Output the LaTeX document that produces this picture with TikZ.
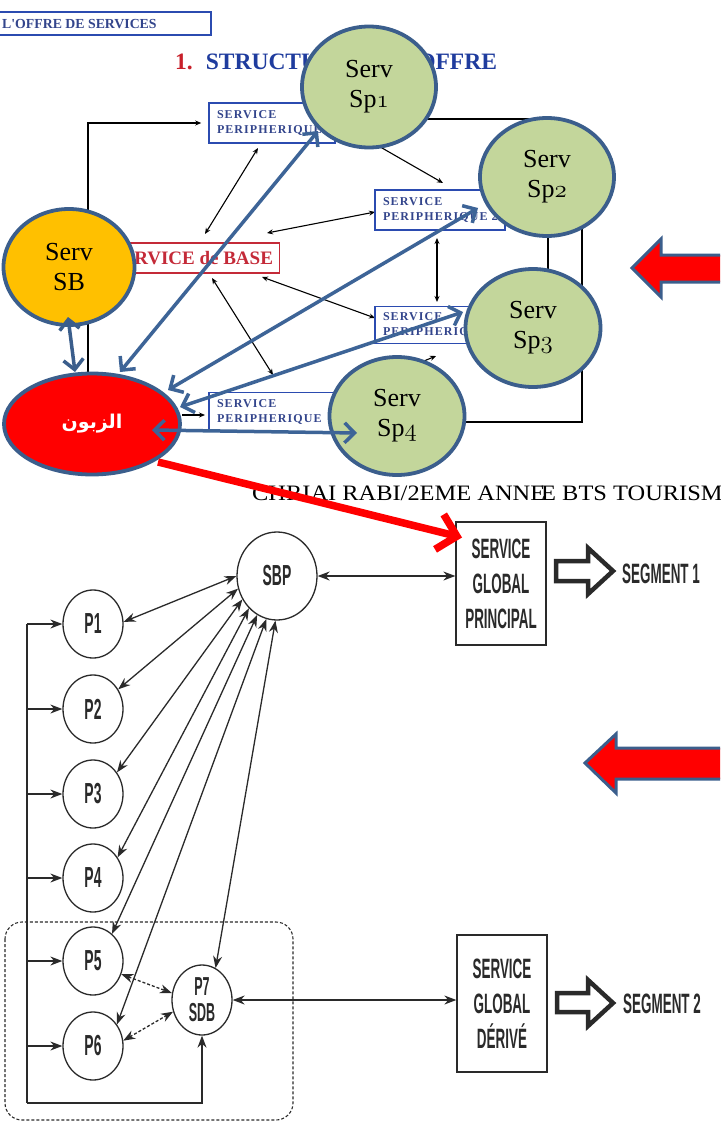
\documentclass[tikz,border=0pt]{standalone}
\usepackage{fontspec}
\usetikzlibrary{arrows.meta,shapes.geometric}
\TeXXeTstate=1
\newfontfamily\timesf{Liberation Serif}
\newfontfamily\footf[FakeStretch=1.11]{Liberation Serif}
\newfontfamily\arabicfont[Script=Arabic]{DejaVu Sans}
\newfontfamily\condf[FakeStretch=0.48]{Liberation Sans}
\newcommand\osn[1]{{\usefont{OML}{cmm}{m}{it}#1}}
\pgfdeclarelayer{back}
\pgfsetlayers{back,main}
\definecolor{cborder}{HTML}{3B5E8C}
\definecolor{sgreen}{HTML}{C3D69B}
\definecolor{sorange}{HTML}{FFC000}
\definecolor{barrow}{HTML}{3D6497}
\definecolor{tblue}{HTML}{1F3C9E}
\definecolor{tred}{HTML}{C8202A}
\definecolor{pbox}{HTML}{2B4BB0}
\definecolor{ptext}{HTML}{33458C}
\definecolor{bred}{HTML}{C42A38}
\definecolor{ink}{HTML}{2A2A2A}
\tikzset{
  serv/.style={ellipse, draw=cborder, line width=3.8pt, fill=sgreen, inner sep=0pt,
    minimum width=134pt, minimum height=121pt, align=center, font=\timesf\fontsize{26}{30}\selectfont},
  peri/.style={rectangle, draw=pbox, line width=1.6pt, fill=white, inner sep=0pt, align=left,
    text=ptext, font=\timesf\bfseries\fontsize{12}{15}\selectfont\addfontfeature{LetterSpace=9}},
  blk/.style={draw=black, line width=1.1pt, >={Stealth[length=6pt,width=5pt]}},
  blu/.style={draw=barrow, line width=3.5pt, >={Straight Barb[length=10pt,width=20pt]}, <->},
  pc/.style={ellipse, draw=ink, line width=1.3pt, minimum width=60pt, minimum height=68pt,
    inner sep=0pt, text=ink, font=\condf\bfseries\fontsize{29}{29}\selectfont},
  gbox/.style={rectangle, draw=ink, line width=1.3pt, minimum width=90pt, inner sep=0pt,
    align=center, text=ink, font=\condf\bfseries\fontsize{28}{35}\selectfont},
  gar/.style={draw=ink, line width=1.3pt, >={Stealth[length=12pt,width=9pt]}},
  seglabel/.style={anchor=base west, inner sep=0pt, text=ink, font=\condf\bfseries\fontsize{28}{28}\selectfont},
  bigarrow/.style={fill=red, draw=cborder, line width=3pt, line join=miter},
  segarrow/.style={fill=white, draw=ink, line width=4.5pt, line join=miter}
}
\begin{document}
\begin{tikzpicture}[x=1pt,y=-1pt]
\useasboundingbox (0,0) rectangle (720,1121);
\clip (0,0) rectangle (720,1121);
\begin{pgfonlayer}{back}
\fill[white] (0,0) rectangle (720,1121);
\end{pgfonlayer}

% ---------- upper figure: header and title ----------
\draw[draw=pbox, line width=2.6pt] (-10,12) rectangle (211,35);
\node[anchor=base west, inner sep=0pt, text=ptext, font=\timesf\bfseries\fontsize{13.8}{14}\selectfont] (hdr) at (2,29) {L'OFFRE DE SERVICES};
\node[anchor=base west, inner sep=0pt, font=\timesf\bfseries\fontsize{23.5}{24}\selectfont] (title) at (175,70)
  {\textcolor{tred}{1.}\hspace{13pt}\textcolor{tblue}{STRUCTURE DE L'OFFRE}};

% ---------- service boxes ----------
\node[peri, minimum width=126pt, minimum height=40pt, text width=110pt] (b1) at (272,123) {SERVICE\\PERIPHERIQUE};
\node[peri, minimum width=130pt, minimum height=40pt, text width=114pt] (b2) at (440,210) {SERVICE\\PERIPHERIQUE\rlap{ 2}};
\node[peri, minimum width=130pt, minimum height=37pt, text width=114pt] (b3) at (440,325) {SERVICE\\PERIPHERIQUE};
\node[peri, minimum width=126pt, minimum height=39pt, text width=110pt] (b4) at (272,412) {SERVICE\\PERIPHERIQUE};
\node[rectangle, draw=bred, line width=1.6pt, fill=white, minimum width=175pt, minimum height=30pt, inner sep=0pt,
  text=bred, font=\timesf\bfseries\fontsize{19}{20}\selectfont] (base) at (192,258) {SERVICE de BASE};

% ---------- service circles ----------
\node[serv] (sp1) at (369,87) {Serv\\Sp\osn{1}};
\node[serv, minimum height=118pt] (sp2) at (547,177) {Serv\\Sp\osn{2}};
\node[serv, minimum width=135pt, minimum height=118pt] (sp3) at (533,328) {Serv\\Sp\osn{3}};
\node[serv, minimum width=135pt, minimum height=118pt] (sp4) at (397,416) {Serv\\Sp\osn{4}};
\node[serv, fill=sorange, minimum width=131pt, minimum height=116pt] (sb) at (69,267) {Serv\\SB};
\node[serv, fill=red, minimum width=176pt, minimum height=101pt, text=white,
  font=\arabicfont\bfseries\fontsize{19}{22}\selectfont] (cl) at (92,424) {\beginR الزبون\endR};

% ---------- thin black links of the original scheme ----------
\begin{pgfonlayer}{back}
\draw[blk, ->] ([shift={(-4,-51)}]cl.center) |- ([shift={(-7,0)}]b1.west);
\draw[blk, <->] ([shift={(-14,25)}]b1.center) -- ([shift={(13,-24)}]base.center);
\draw[blk, ->] ([shift={(63,-2)}]b1.center) -- ([shift={(3,-27)}]b2.center);
\draw[blk, <->] ([shift={(75,-25)}]base.center) -- ([shift={(-65,2)}]b2.center);
\draw[blk, <->] ([shift={(70,19)}]base.center) -- ([shift={(-65,-7)}]b3.center);
\draw[blk, <->] ([shift={(20,20)}]base.center) -- ([shift={(1,-37)}]b4.center);
\draw[blk, <->] ([shift={(-3,28)}]b2.center) -- ([shift={(-3,-23)}]b3.center);
\draw[blk, ->] ([shift={(90,-9)}]cl.center) -- ([shift={(-67,3)}]b4.center);
\draw[blk, ->] ([shift={(58,-12)}]b4.center) -- ([shift={(-4,31)}]b3.center);
\draw[blk] ([shift={(63,-4)}]b1.center) -- ++(213,0) |- ([shift={(65,0)}]b3.center);
\draw[blk] ([shift={(65,5)}]b2.center) -- ++(77,0) |- ([shift={(63,10)}]b4.center);
\end{pgfonlayer}

% ---------- thick blue links ----------
\draw[blu, draw=cborder] ([shift={(-1,50)}]sb.center) -- ([shift={(-17,-52)}]cl.center);
\draw[blu] ([shift={(28,-52)}]cl.center) -- ([shift={(-51,44)}]sp1.center);
\draw[blu] ([shift={(76,-34)}]cl.center) -- ([shift={(-69,31)}]sp2.center);
\draw[blu] ([shift={(88,-17)}]cl.center) -- ([shift={(-70,-16)}]sp3.center);
\draw[blu] ([shift={(60,6)}]cl.center) -- ([shift={(-40,17)}]sp4.center);

% ---------- block arrows ----------
\draw[bigarrow] (730,255) -- (661,255) -- (661,239) -- (632,268) -- (661,297) -- (661,282) -- (730,282) -- cycle;
\draw[bigarrow] (730,748) -- (616,748) -- (616,734) -- (585,763) -- (616,793) -- (616,779) -- (730,779) -- cycle;

% ---------- footer line ----------
\node[anchor=base west, inner sep=0pt, font=\footf\fontsize{22}{24}\selectfont] (foot) at (252,500)
  {CHRIAI RABI/2EME ANNE\kern-4pt E BTS TOURISME};

% ---------- lower figure ----------
\node[pc, minimum width=80pt, minimum height=88pt] (sbp) at (277,576) {SBP};
\node[pc] (p1) at (93,624) {P1};
\node[pc] (p2) at (93,709) {P2};
\node[pc] (p3) at (93,794) {P3};
\node[pc] (p4) at (93,878) {P4};
\node[pc] (p5) at (93,961) {P5};
\node[pc] (p6) at (93,1046) {P6};
\node[pc, minimum height=70pt, align=center, font=\condf\bfseries\fontsize{26}{26}\selectfont] (p7) at (202,1000) {P7\\SDB};
\node[gbox, minimum height=123pt] (sgp) at (501,583.5) {SERVICE\\GLOBAL\\PRINCIPAL};
\node[gbox, minimum height=137pt] (sgd) at (502,1003.5) {SERVICE\\GLOBAL\\DÉRIVÉ};
\node[seglabel] (seg1) at (622,583) {SEGMENT 1};
\node[seglabel] (seg2) at (623,1013) {SEGMENT 2};

\draw[segarrow] (556,561) -- (588,561) -- (588,548) -- (613,571) -- (588,594) -- (588,581) -- (556,581) -- cycle;
\draw[segarrow] (557,993) -- (588,993) -- (588,980) -- (613,1003) -- (588,1026) -- (588,1012) -- (557,1012) -- cycle;

% fan of links from SBP
\draw[gar, <->] (sbp.180) -- (p1.4);
\draw[gar, <->] (sbp.198) -- (p2.38);
\draw[gar, <->] (sbp.214) -- (p3.42);
\draw[gar, <->] (sbp.229) -- (p4.40);
\draw[gar, <->] (sbp.243) -- (p5.55);
\draw[gar, <->] (sbp.256) -- (p6.42);
\draw[gar, <->] (sbp.268) -- (p7.67);
\draw[gar, <->] (sbp.east) -- (sbp.east -| sgp.west);
\draw[gar, <->] (p7.east) -- (p7.east -| sgd.west);
\draw[gar, <->, dash pattern=on 3pt off 2pt] (p5.-25) -- (p7.167);
\draw[gar, <->, dash pattern=on 3pt off 2pt] (p6.10) -- (p7.202);

% feed line on the left
\coordinate (bustop) at (27,624);
\coordinate (busbot) at (27,1103);
\draw[gar] (bustop) -- (busbot);
\draw[gar, ->] (busbot) -| (p7.south);
\foreach \p in {p1,p2,p3,p4,p5,p6} \draw[gar, ->] (\p.west -| bustop) -- (\p.west);

% dashed group
\draw[ink, line width=1.1pt, dash pattern=on 3pt off 2pt, rounded corners=17pt] (5,922) rectangle (293,1120);

% ---------- red link from the customer ----------
\draw[red, line width=7.5pt, -{Straight Barb[length=18pt,width=36pt]}] ([shift={(66,38)}]cl.center) -- ([shift={(-39,-46)}]sgp.center);
\end{tikzpicture}
\end{document}
